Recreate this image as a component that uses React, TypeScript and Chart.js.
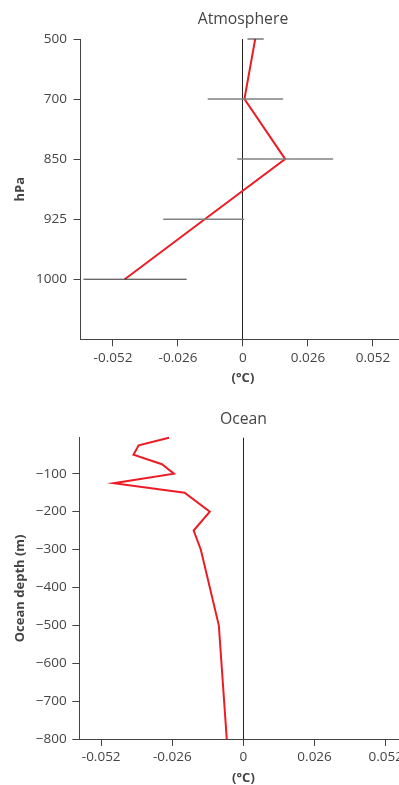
import React, { useEffect, useRef } from 'react';
import { Chart, registerables } from 'chart.js';

Chart.register(...registerables);

// ---- Data ----
const pressureLevels = ['500', '700', '850', '925', '1000'];
const atmosphereValues = [0.0049, 0.0006, 0.0169, -0.0153, -0.0473];
const atmosphereLow = [0.0018, -0.0141, -0.0023, -0.0319, -0.0638];
const atmosphereHigh = [0.0083, 0.0161, 0.0361, 0.0005, -0.0225];

const oceanDepths = [-5, -25, -50, -75, -100, -125, -150, -200, -250, -300, -500, -800];
const oceanValues = [-0.0272, -0.0383, -0.0402, -0.0298, -0.0254, -0.0474, -0.0215, -0.0123, -0.0182, -0.0156, -0.009, -0.0061];

const tempTickValues = [-0.052, -0.026, 0, 0.026, 0.052];
const depthTickValues = [-100, -200, -300, -400, -500, -600, -700, -800];

const atmosphereTitle = 'Atmosphere';
const oceanTitle = 'Ocean';
const pressureAxisTitle = 'hPa';
const depthAxisTitle = 'Ocean depth (m)';
const tempAxisTitle = '(°C)';

// ---- Styles ----
const FONT = "'Open Sans', sans-serif";
const TEXT = '#444';
const RED = '#ec1c24';
const errBarColors = ['#333', '#808080', '#808080', '#808080', '#333'];
const errBarWidths = [1, 1.5, 1.5, 1.5, 1];

const W = 410;

function titlePlugin(text: string, y: number) {
  return {
    id: 'panelTitle',
    afterDraw(chart: any) {
      const { ctx, chartArea } = chart;
      ctx.save();
      ctx.font = `15.75px ${FONT}`;
      ctx.fillStyle = TEXT;
      ctx.textAlign = 'center';
      ctx.textBaseline = 'middle';
      ctx.fillText(text, (chartArea.left + chartArea.right) / 2, y);
      ctx.restore();
    },
  };
}

function xAxis(min: number, max: number, height: number, titlePad: number, tickPad: number) {
  return {
    type: 'linear',
    position: 'bottom',
    min,
    max,
    afterBuildTicks: (s: any) => {
      s.ticks = tempTickValues.map((v) => ({ value: v }));
    },
    afterFit: (s: any) => {
      s.height = height;
    },
    border: { display: true, color: TEXT, width: 1 },
    grid: {
      drawOnChartArea: true,
      drawTicks: true,
      tickLength: 7,
      tickColor: TEXT,
      lineWidth: 1,
      color: (ctx: any) => (ctx.tick && ctx.tick.value === 0 ? '#222' : 'rgba(0,0,0,0)'),
    },
    ticks: {
      color: TEXT,
      padding: tickPad,
      maxRotation: 0,
      font: { family: FONT, size: 13.5 },
      callback: (v: any) => String(v),
    },
    title: {
      display: true,
      text: tempAxisTitle,
      color: TEXT,
      font: { family: FONT, size: 13, weight: 'bold' },
      padding: { top: 0, bottom: titlePad },
    },
  };
}

function TopChart() {
  const ref = useRef<HTMLCanvasElement>(null);
  useEffect(() => {
    const H = 395;
    const errSets = pressureLevels.map((lvl, i) => ({
      data: [
        { x: atmosphereLow[i], y: lvl },
        { x: atmosphereHigh[i], y: lvl },
      ],
      borderColor: errBarColors[i],
      borderWidth: errBarWidths[i],
      pointRadius: 0,
      fill: false,
      clip: false,
    }));
    const chart = new Chart(ref.current as HTMLCanvasElement, {
      type: 'line',
      data: {
        datasets: [
          ...errSets,
          {
            data: pressureLevels.map((lvl, i) => ({ x: atmosphereValues[i], y: lvl })),
            borderColor: RED,
            borderWidth: 2,
            pointRadius: 0,
            fill: false,
            tension: 0,
            clip: false,
          },
        ],
      } as any,
      options: {
        responsive: false,
        animation: false,
        layout: { padding: { top: 39, right: W - 405.4, left: 0, bottom: 0 } },
        plugins: { legend: { display: false }, tooltip: { enabled: false }, title: { display: false } },
        scales: {
          x: xAxis(-0.065, 0.065, H - 339.3, 9.2, 4),
          y: {
            type: 'category',
            position: 'left',
            labels: [...pressureLevels, ''],
            offset: false,
            afterFit: (s: any) => {
              s.width = 80.5;
            },
            border: { display: true, color: TEXT, width: 1 },
            grid: {
              drawOnChartArea: false,
              drawTicks: true,
              tickLength: 7,
              tickColor: (ctx: any) => (ctx.index === pressureLevels.length ? 'rgba(0,0,0,0)' : TEXT),
            },
            ticks: {
              color: TEXT,
              padding: 6.5,
              font: { family: FONT, size: 13.5 },
            },
            title: {
              display: true,
              text: pressureAxisTitle,
              color: TEXT,
              font: { family: FONT, size: 13, weight: 'bold' },
              padding: { top: 12.2, bottom: 0 },
            },
          },
        },
      } as any,
      plugins: [titlePlugin(atmosphereTitle, 20)],
    });
    return () => chart.destroy();
  }, []);
  return (
    <canvas
      ref={ref}
      width={W}
      height={395}
      style={{ position: 'absolute', left: 0, top: 0, width: W, height: 395 }}
    />
  );
}

function BottomChart() {
  const ref = useRef<HTMLCanvasElement>(null);
  useEffect(() => {
    const H = 392;
    const chart = new Chart(ref.current as HTMLCanvasElement, {
      type: 'line',
      data: {
        datasets: [
          {
            data: oceanDepths.map((d, i) => ({ x: oceanValues[i], y: d })),
            borderColor: RED,
            borderWidth: 2,
            pointRadius: 0,
            fill: false,
            tension: 0,
            clip: false,
          },
        ],
      } as any,
      options: {
        responsive: false,
        animation: false,
        layout: { padding: { top: 42.7, right: W - 407.6, left: 0, bottom: 0 } },
        plugins: { legend: { display: false }, tooltip: { enabled: false }, title: { display: false } },
        scales: {
          x: xAxis(-0.06, 0.06, H - 344, 1.2, 3),
          y: {
            type: 'linear',
            position: 'left',
            min: -800,
            max: -5,
            afterBuildTicks: (s: any) => {
              s.ticks = depthTickValues.map((v) => ({ value: v }));
            },
            afterFit: (s: any) => {
              s.width = 79.3;
            },
            border: { display: true, color: TEXT, width: 1 },
            grid: {
              drawOnChartArea: false,
              drawTicks: true,
              tickLength: 7,
              tickColor: TEXT,
            },
            ticks: {
              color: TEXT,
              padding: 5.6,
              font: { family: FONT, size: 13.5 },
              callback: (v: any) => (Number(v) < 0 ? '\u2212' + String(Math.abs(Number(v))) : String(v)),
            },
            title: {
              display: true,
              text: depthAxisTitle,
              color: TEXT,
              font: { family: FONT, size: 13, weight: 'bold' },
              padding: { top: 12.2, bottom: 0 },
            },
          },
        },
      } as any,
      plugins: [titlePlugin(oceanTitle, 25)],
    });
    return () => chart.destroy();
  }, []);
  return (
    <canvas
      ref={ref}
      width={W}
      height={392}
      style={{ position: 'absolute', left: 0, top: 395, width: W, height: 392 }}
    />
  );
}

export default function App() {
  return (
    <div
      style={{
        position: 'fixed',
        left: 0,
        top: 0,
        width: 399,
        height: 785,
        overflow: 'hidden',
        background: '#fff',
      }}
    >
      <TopChart />
      <BottomChart />
    </div>
  );
}
